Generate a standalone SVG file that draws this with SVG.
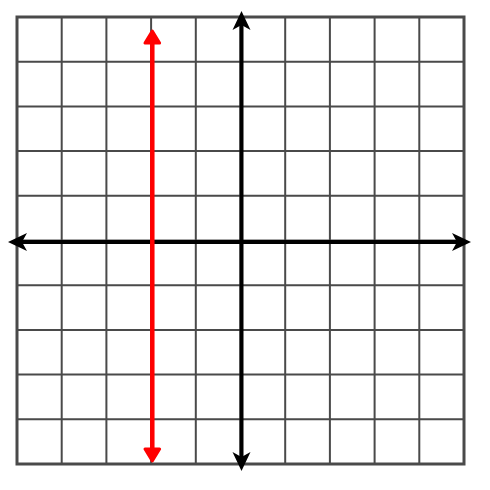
<svg xmlns="http://www.w3.org/2000/svg" width="490" height="490" viewBox="0 0 490 490">
<style>
.grid{stroke:#4a4a4a;stroke-width:2;fill:none}
.border{stroke:#4a4a4a;stroke-width:3;fill:none}
.axis{stroke:#000;stroke-width:4;fill:none}
.ah{fill:#000}
.red{stroke:#ff0000;stroke-width:4.5;fill:none}
.rh{fill:#ff0000;stroke:#ff0000;stroke-width:3;stroke-linejoin:round}
</style>
<rect width="490" height="490" fill="#fff"/>
<g id="grid">
<path class="grid" d="M61.7 17V464M106.4 17V464M151.1 17V464M195.8 17V464M285.2 17V464M329.9 17V464M374.6 17V464M419.3 17V464M17 61.7H464M17 106.4H464M17 151.1H464M17 195.8H464M17 285.2H464M17 329.9H464M17 374.6H464M17 419.3H464M240.5 17V464M17 240.5H464"/>
<rect class="border" x="17" y="17" width="447" height="447"/>
</g>
<g id="connectors">
<g id="x-axis">
<path class="axis" d="M20 242H458"/>
<path class="ah" d="M8 242L27 233L22 242L27 251Z"/>
<path class="ah" d="M471 242L452 233L457 242L452 251Z"/>
</g>
<g id="y-axis">
<path class="axis" d="M241.5 24V458"/>
<path class="ah" d="M241.5 11L232.5 30L241.5 25L250.5 30Z"/>
<path class="ah" d="M241.5 471L232.5 452L241.5 457L250.5 452Z"/>
</g>
<g id="red-line">
<path class="red" d="M152.3 40V452"/>
<path class="rh" d="M152.3 31L145 43L159.6 43Z"/>
<path class="rh" d="M152.3 461L145 449L159.6 449Z"/>
</g>
</g>
</svg>
